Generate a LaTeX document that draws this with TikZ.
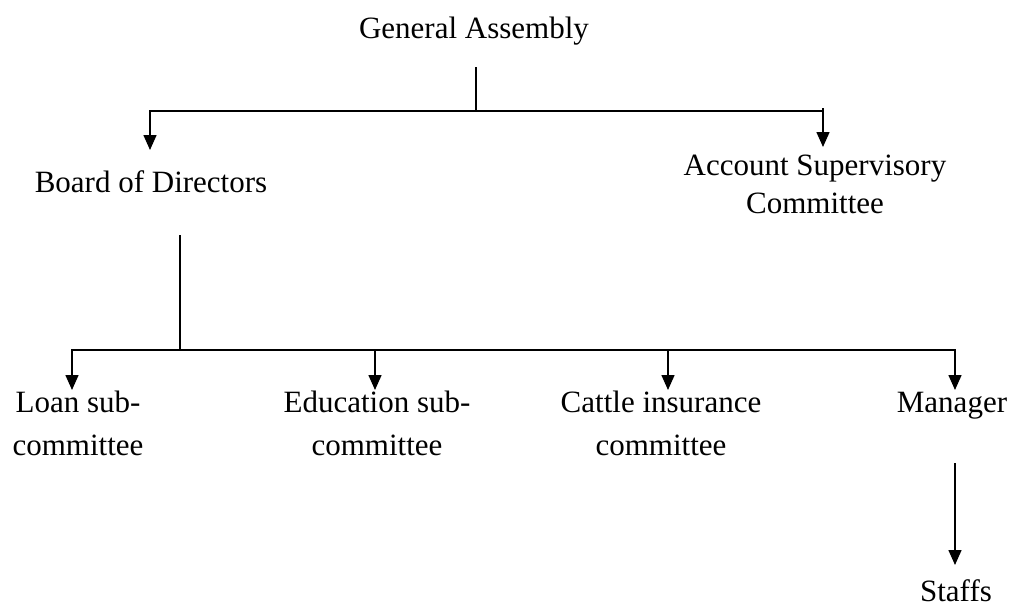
\documentclass[tikz,border=0pt]{standalone}
\usepackage{fontspec}
\setmainfont{Liberation Serif}
\usetikzlibrary{arrows.meta}
\begin{document}
\begin{tikzpicture}[x=1pt,y=-1pt,
  lbl/.style={inner sep=0pt, anchor=base, align=center, font=\fontsize{31}{43}\selectfont},
  link/.style={line width=1.5pt},
  bus/.style={line width=2.2pt, line cap=rect},
  arr/.style={line width=1.5pt, -{Triangle[length=15pt,width=13pt]}}]
\useasboundingbox (0,0) rectangle (1013,606);

% labels (multi-line labels are placed by the baseline of their last line)
\node[lbl] (ga) at (474,38) {General Assembly};
\node[lbl] (bod) at (151,192) {Board of Directors};
\node[lbl, font=\fontsize{31}{38}\selectfont] (asc) at (815,213) {Account Supervisory\\Committee};
\node[lbl] (loan) at (78,455) {Loan sub-\\committee};
\node[lbl] (edu) at (377,455) {Education sub-\\committee};
\node[lbl] (cattle) at (661,455) {Cattle insurance\\committee};
\node[lbl] (mgr) at (952,412) {Manager};
\node[lbl] (staff) at (956,601) {Staffs};

% junctions and arrow tips
\coordinate (gaOut) at (476,67);
\coordinate (gaJ) at (476,111);
\coordinate (topL) at (150,111);
\coordinate (topR) at (823,111);
\coordinate (topRup) at (823,108);
\coordinate (bodIn) at (150,150);
\coordinate (ascIn) at (823,147);

\coordinate (bodOut) at (180,235);
\coordinate (bodJ) at (180,350);
\coordinate (lowL) at (72,350);
\coordinate (lowE) at (375,350);
\coordinate (lowC) at (668,350);
\coordinate (lowR) at (955,350);
\coordinate (loanIn) at (72,390);
\coordinate (eduIn) at (375,390);
\coordinate (cattleIn) at (668,390);
\coordinate (mgrIn) at (955,390);
\coordinate (mgrOut) at (955,463);
\coordinate (staffIn) at (955,565);

% General Assembly branch
\draw[link] (gaOut) -- (gaJ);
\draw[bus] (topL) -- (topR);
\draw[arr] (topL) -- (bodIn);
\draw[arr] (topRup) -- (ascIn);

% Board of Directors branch
\draw[link] (bodOut) -- (bodJ);
\draw[bus] (lowL) -- (lowR);
\draw[arr] (lowL) -- (loanIn);
\draw[arr] (lowE) -- (eduIn);
\draw[arr] (lowC) -- (cattleIn);
\draw[arr] (lowR) -- (mgrIn);

% Manager to staff
\draw[arr] (mgrOut) -- (staffIn);
\end{tikzpicture}
\end{document}
